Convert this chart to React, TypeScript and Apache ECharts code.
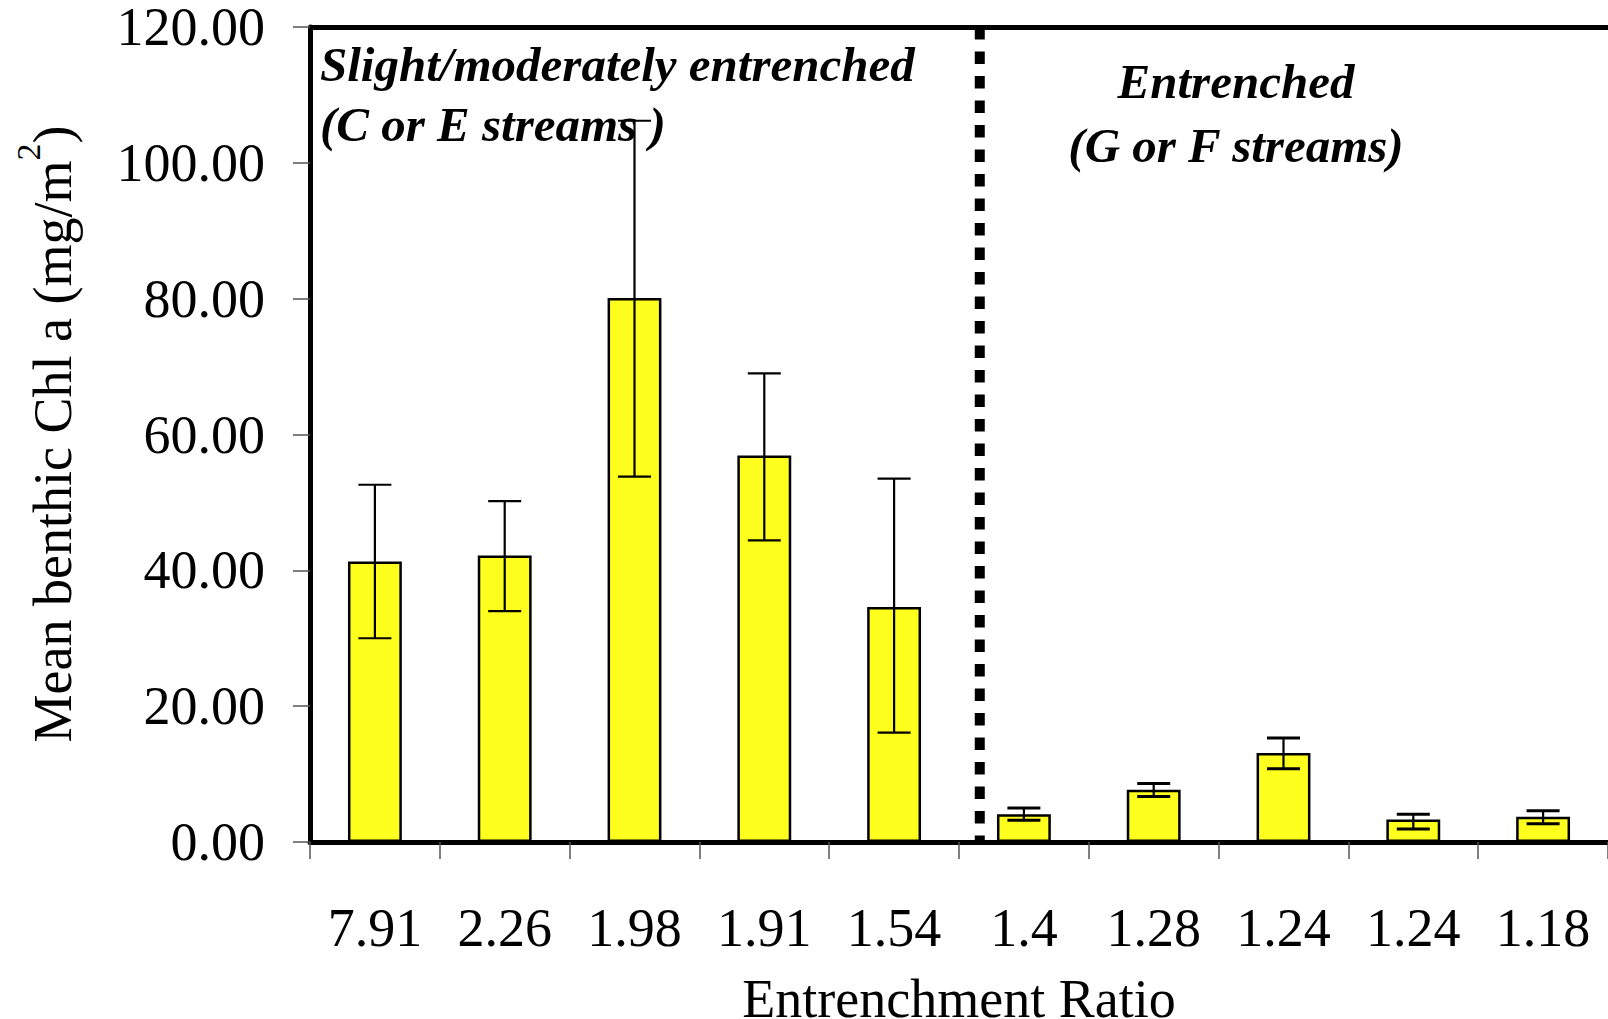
import React, { useEffect, useRef } from "react";
import * as echarts from "echarts";

const categories = ["7.91", "2.26", "1.98", "1.91", "1.54", "1.4", "1.28", "1.24", "1.24", "1.18"];
const meanChl = [41.3, 42.2, 80.1, 56.9, 34.6, 4.1, 7.7, 13.1, 3.3, 3.7];
const errUpper = [52.6, 50.2, 106.2, 69.0, 53.5, 5.0, 8.6, 15.3, 4.1, 4.6];
const errLower = [30.0, 34.0, 53.8, 44.4, 16.1, 3.2, 6.7, 10.8, 1.9, 2.7];
const yTicks = { min: 0, max: 120, interval: 20 };
const dividerPos = 5.16; // position between the two groups, in category-band units
const xTitle = "Entrenchment Ratio";
const groupLabels = {
  left: ["Slight/moderately entrenched", "(C or E streams )"],
  right: ["Entrenched", "(G or F streams)"],
};

const FONT = "'Liberation Serif', 'Times New Roman', serif";

export default function App() {
  const ref = useRef<HTMLDivElement>(null);

  useEffect(() => {
    if (!ref.current) return;
    const chart = echarts.init(ref.current, undefined, { renderer: "svg" });

    const errData = categories.map((_, i) => [i, errUpper[i], errLower[i]]);

    const annot = (text: string, x: number, y: number, align: string) => ({
      type: "text",
      x,
      y,
      style: {
        text,
        align,
        verticalAlign: "middle",
        fill: "#000",
        fontFamily: FONT,
        fontSize: 49,
        lineHeight: 50,
        fontWeight: "bold",
        fontStyle: "italic",
      },
    });

    chart.setOption({
      animation: false,
      backgroundColor: "#ffffff",
      textStyle: { fontFamily: FONT },
      grid: { left: 310, top: 24.5, width: 1302, height: 817.5, containLabel: false },
      xAxis: [
        {
          type: "category",
          data: categories,
          position: "bottom",
          axisLine: { show: true, lineStyle: { color: "#000", width: 5 } },
          axisTick: { show: true, length: 17, lineStyle: { color: "#555", width: 1.5 } },
          axisLabel: {
            color: "#000",
            fontFamily: FONT,
            fontSize: 54,
            lineHeight: 50,
            margin: 86,
            verticalAlign: "middle",
            interval: 0,
          },
          splitLine: { show: false },
        },
        {
          type: "value",
          min: 0,
          max: categories.length,
          show: false,
        },
      ],
      yAxis: {
        type: "value",
        min: yTicks.min,
        max: yTicks.max,
        interval: yTicks.interval,
        axisLine: { show: true, lineStyle: { color: "#000", width: 5 } },
        axisTick: { show: true, length: 17, lineStyle: { color: "#555", width: 1.5 } },
        axisLabel: {
          color: "#000",
          fontFamily: FONT,
          fontSize: 54,
          lineHeight: 44,
          margin: 45,
          formatter: (v: number) => v.toFixed(2),
        },
        splitLine: { show: false },
      },
      series: [
        {
          type: "bar",
          xAxisIndex: 0,
          data: meanChl,
          barWidth: "41.5%",
          itemStyle: { color: "#FFFF1E", borderColor: "#000", borderWidth: 2.5 },
          markLine: {
            silent: true,
            symbol: ["none", "none"],
            label: { show: false },
            lineStyle: { color: "#000", width: 5, type: "solid" },
            data: [{ yAxis: yTicks.max }],
          },
          z: 2,
        },
        {
          type: "custom",
          xAxisIndex: 0,
          data: errData,
          encode: { x: 0, y: [1, 2] },
          z: 3,
          renderItem: (params: any, api: any) => {
            const idx = api.value(0);
            const hi = api.coord([idx, api.value(1)]);
            const lo = api.coord([idx, api.value(2)]);
            const half = 16.5;
            const capW = idx >= 5 ? 3 : 2.2;
            return {
              type: "group",
              children: [
                {
                  type: "line",
                  shape: { x1: hi[0], y1: hi[1], x2: lo[0], y2: lo[1] },
                  style: { stroke: "#000", lineWidth: 2.2 },
                },
                {
                  type: "line",
                  shape: { x1: hi[0] - half, y1: hi[1], x2: hi[0] + half, y2: hi[1] },
                  style: { stroke: "#000", lineWidth: capW },
                },
                {
                  type: "line",
                  shape: { x1: lo[0] - half, y1: lo[1], x2: lo[0] + half, y2: lo[1] },
                  style: { stroke: "#000", lineWidth: capW },
                },
              ],
            };
          },
        },
        {
          type: "line",
          xAxisIndex: 1,
          yAxisIndex: 0,
          data: [
            [dividerPos, yTicks.max],
            [dividerPos, yTicks.min],
          ],
          symbol: "none",
          silent: true,
          lineStyle: { color: "#000", width: 10, type: [12.5, 12] },
          z: 4,
        },
      ],
      graphic: [
        {
          type: "text",
          x: 53,
          y: 434,
          rotation: Math.PI / 2,
          style: {
            text: "{a|Mean benthic Chl a (mg/m}{s|2}{a|)}",
            align: "center",
            verticalAlign: "middle",
            fill: "#000",
            fontFamily: FONT,
            fontSize: 54,
            rich: {
              a: { fontFamily: FONT, fontSize: 54, lineHeight: 84, fill: "#000" },
              s: { fontFamily: FONT, fontSize: 34, lineHeight: 34, verticalAlign: "top", fill: "#000" },
            },
          },
        },
        {
          type: "text",
          x: 959,
          y: 999,
          style: {
            text: xTitle,
            align: "center",
            verticalAlign: "middle",
            fill: "#000",
            fontFamily: FONT,
            fontSize: 54,
            lineHeight: 36,
          },
        },
        annot(groupLabels.left[0], 320, 64, "left"),
        annot(groupLabels.left[1], 320, 124, "left"),
        annot(groupLabels.right[0], 1236, 81, "center"),
        annot(groupLabels.right[1], 1236, 145, "center"),
      ],
    });

    return () => chart.dispose();
  }, []);

  return (
    <div
      ref={ref}
      style={{ position: "fixed", left: 0, top: 0, width: 1608, height: 1019, background: "#fff" }}
    />
  );
}
